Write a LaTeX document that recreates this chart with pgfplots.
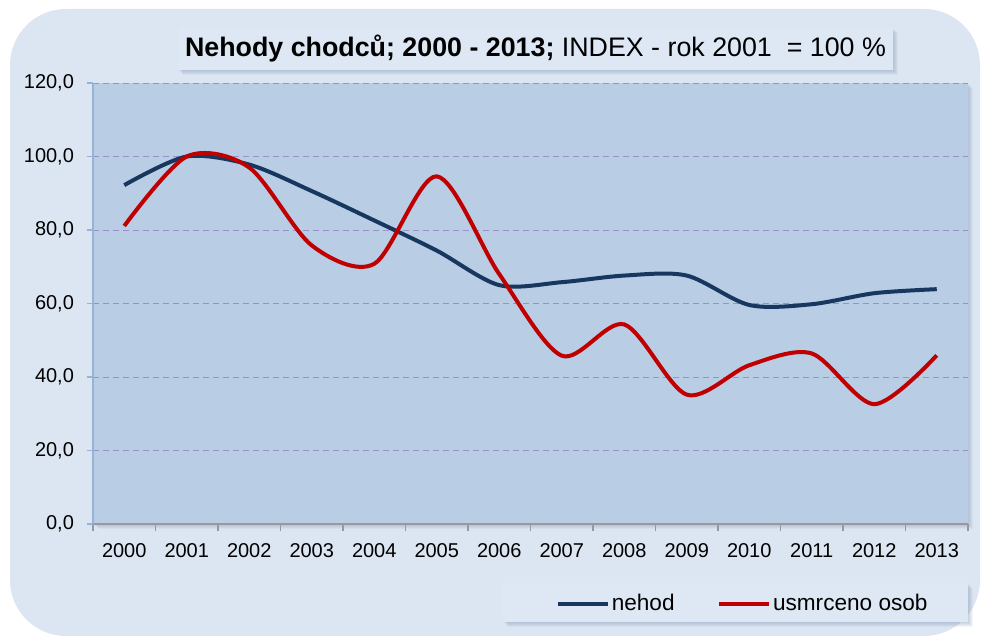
\documentclass[border=0pt]{standalone}
\usepackage{fontspec}
\setmainfont{Liberation Sans}
\usepackage{pgfplots}
\pgfplotsset{compat=1.18}
\definecolor{outerbg}{HTML}{DCE6F2}
\definecolor{boxbg}{HTML}{DEE8F4}
\definecolor{plotbg}{HTML}{B9CDE5}
\definecolor{shadowc}{HTML}{7F95B5}
\definecolor{nehod}{HTML}{17375E}
\definecolor{usmrc}{HTML}{C00000}
\definecolor{gridc}{HTML}{9A90CC}
\definecolor{laxis}{HTML}{95B3D7}

\pgfplotstableread{
x  year nehod usmrceno
0  2000 92.2  81.1
1  2001 100.0 100.0
2  2002 97.8  97.0
3  2003 90.6  75.8
4  2004 82.6  70.8
5  2005 74.4  94.6
6  2006 65.0  68.0
7  2007 65.8  45.8
8  2008 67.6  54.3
9  2009 67.6  35.2
10 2010 59.6  43.2
11 2011 59.8  46.4
12 2012 62.8  32.6
13 2013 63.9  45.9
}\data

% soft shadow behind a box given by two corners (pixel frame)
\newcommand{\softshadow}[4]{%
  \foreach \d/\o in {1/0.10,2/0.10,3/0.10,4/0.10,5/0.08}{%
    \fill[shadowc, opacity=\o] (#1+\d,#2+\d) rectangle (#3+\d,#4+\d);}}

\begin{document}
\begin{tikzpicture}
% image-pixel frame: 982 x 638 px, 1 px = 0.5 pt, y downwards
\begin{scope}[x=0.5pt, y=-0.5pt, shift={(0,319pt)}]
  \path[use as bounding box] (0,0) rectangle (982,638);
  \fill[white] (0,0) rectangle (982,638);
  \fill[outerbg] (10,9) [rounded corners=28pt] rectangle (980,636);
  % plot area with shadow
  \softshadow{93}{83}{968}{524}
  \fill[plotbg] (93,83) rectangle (968,524);
  % title box
  \softshadow{178}{28}{893}{70}
  \fill[boxbg] (178,28) rectangle (893,70);
  \node at (535.5,49) {\fontsize{13.4}{15}\selectfont\textbf{Nehody chodců; 2000 - 2013;} INDEX - rok 2001\ \ = 100 \%};
  % legend box
  \softshadow{503}{583}{968}{622}
  \fill[boxbg] (503,583) rectangle (968,622);
\end{scope}

\begin{axis}[
  at={(46.5pt,57pt)}, anchor=south west,
  scale only axis,
  width=437.5pt, height=220.5pt,
  xmin=-0.5, xmax=13.5,
  ymin=0, ymax=120,
  axis lines*=left,
  x axis line style={draw=gray!80, line width=0.6pt},
  y axis line style={draw=laxis, line width=0.6pt},
  xtick={0,...,13},
  xticklabels={2000,2001,2002,2003,2004,2005,2006,2007,2008,2009,2010,2011,2012,2013},
  major x tick style={draw=none},
  minor xtick={-0.5,0.5,...,13.5},
  minor x tick style={draw=gray!80, line width=0.6pt},
  minor tick length=3.5pt,
  tick align=outside,
  ytick={0,20,...,120},
  major y tick style={draw=laxis, line width=0.6pt},
  major tick length=3pt,
  ymajorgrids,
  major grid style={densely dashed, draw=gridc, line width=0.4pt},
  /pgf/number format/assume math mode=true,
  ticklabel style={font=\fontsize{10}{12}\selectfont, text=black},
  xticklabel style={yshift=-3pt},
  yticklabel style={xshift=-3pt, /pgf/number format/.cd, fixed, fixed zerofill, precision=1, use comma},
  legend columns=2,
  legend style={at={(0.528,-0.1814)}, anchor=west, draw=none, fill=none,
    font=\fontsize{11.3}{13}\selectfont, inner sep=0pt,
    nodes={inner xsep=1pt, inner ysep=2pt}},
  /tikz/every even column/.append style={column sep=20pt},
  legend image code/.code={\draw[#1, line width=2.2pt] (0,0) -- (25pt,0);},
  legend cell align=left,
]
\addplot[nehod, line width=2pt, smooth, tension=0.5] table[x=x, y=nehod] {\data};
\addlegendentry{nehod}
\addplot[usmrc, line width=2pt, smooth, tension=0.5] table[x=x, y=usmrceno] {\data};
\addlegendentry{usmrceno osob}
\end{axis}
\end{tikzpicture}
\end{document}
